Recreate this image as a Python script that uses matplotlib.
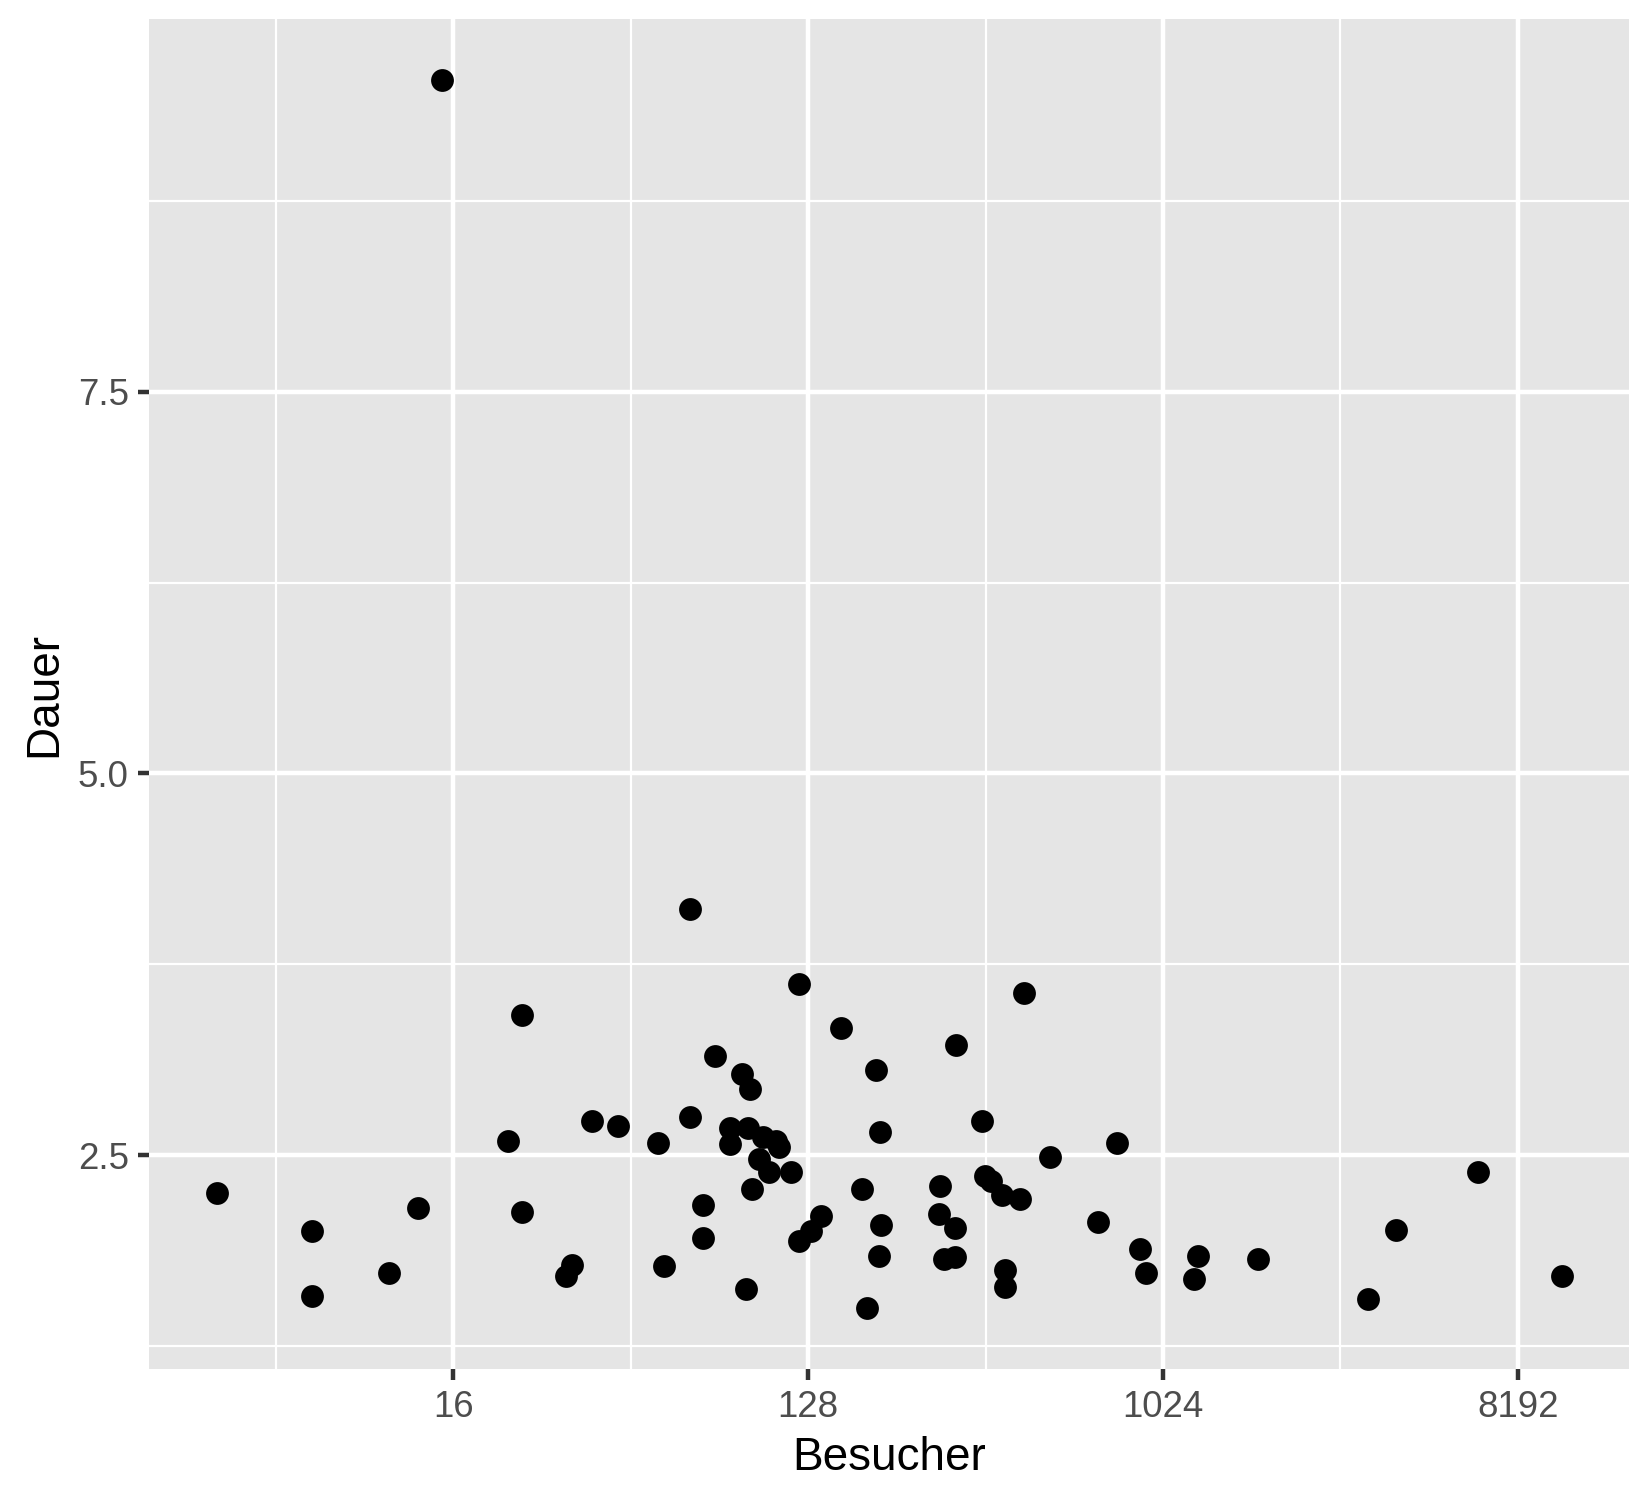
import numpy as np
import matplotlib
matplotlib.use("Agg")
import matplotlib.pyplot as plt
from matplotlib.ticker import FixedLocator, FixedFormatter, NullFormatter

plt.rcParams['font.family'] = ['Liberation Sans', 'DejaVu Sans']

# Besucher (x, log2 scale) and Dauer (y)
besucher = [15, 4, 7, 7, 11, 13, 22, 24, 24, 31,
            32, 36, 42, 53, 55, 64, 64, 69, 69, 74,
            81, 81, 87, 89, 90, 91, 92, 96, 98, 102,
            106, 108, 116, 121, 121, 130, 138, 155, 175, 181,
            191, 194, 195, 196, 275, 278, 284, 302, 302, 305,
            354, 360, 374, 398, 406, 406, 443, 453, 528, 699,
            782, 893, 929, 1226, 1254, 1783, 3413, 4010, 6480, 10600]
dauer = [9.54, 2.25, 2.00, 1.575, 1.73, 2.155, 2.59, 3.42, 2.13, 1.71,
         1.78, 2.72, 2.69, 2.58, 1.77, 4.11, 2.75, 2.17, 1.955, 3.15,
         2.68, 2.57, 3.03, 1.62, 2.68, 2.935, 2.28, 2.475, 2.615, 2.39,
         2.595, 2.55, 2.39, 3.62, 1.935, 2.005, 2.10, 3.33, 2.28, 1.50,
         3.06, 1.84, 2.65, 2.04, 2.115, 2.295, 1.82, 1.83, 2.02, 3.22,
         2.72, 2.365, 2.33, 2.235, 1.75, 1.635, 2.215, 3.56, 2.49, 2.06,
         2.58, 1.885, 1.73, 1.69, 1.84, 1.82, 1.56, 2.01, 2.39, 1.71]

x_breaks = [16, 128, 1024, 8192]
x_minor = [2 ** 2.5, 2 ** 5.5, 2 ** 8.5, 2 ** 11.5]
y_breaks = [2.5, 5.0, 7.5]
y_minor = [1.25, 3.75, 6.25, 8.75]

fig = plt.figure(figsize=(5.5, 5), dpi=300)
ax = fig.add_axes([0.0906, 0.0873, 0.8967, 0.9000])
ax.set_facecolor('#E5E5E5')

ax.scatter(besucher, dauer, s=30, color='black', linewidths=0, zorder=3)

ax.set_xscale('log', base=2)

# ggplot style 5% expansion (x in log space)
lx = np.log2(besucher)
rx = lx.max() - lx.min()
ax.set_xlim(2 ** (lx.min() - 0.05 * rx), 2 ** (lx.max() + 0.05 * rx))
ry = max(dauer) - min(dauer)
ax.set_ylim(min(dauer) - 0.05 * ry, max(dauer) + 0.05 * ry)

ax.xaxis.set_major_locator(FixedLocator(x_breaks))
ax.xaxis.set_major_formatter(FixedFormatter([str(v) for v in x_breaks]))
ax.xaxis.set_minor_locator(FixedLocator(x_minor))
ax.xaxis.set_minor_formatter(NullFormatter())
ax.yaxis.set_major_locator(FixedLocator(y_breaks))
ax.yaxis.set_major_formatter(FixedFormatter(['2.5', '5.0', '7.5']))
ax.yaxis.set_minor_locator(FixedLocator(y_minor))
ax.yaxis.set_minor_formatter(NullFormatter())

ax.grid(which='major', color='white', linewidth=1.07, zorder=0)
ax.grid(which='minor', color='white', linewidth=0.53, zorder=0)
ax.set_axisbelow(True)

for sp in ax.spines.values():
    sp.set_visible(False)

ax.tick_params(which='major', length=2.75, width=1.07, color='#333333',
               labelsize=8.8, labelcolor='#4D4D4D', pad=2.2)
ax.tick_params(which='minor', length=0)

ax.set_xlabel('Besucher', fontsize=11, color='black', labelpad=2.75)
ax.set_ylabel('Dauer', fontsize=11, color='black', labelpad=2.75)

fig.savefig('out.png', dpi=300, facecolor='white')
